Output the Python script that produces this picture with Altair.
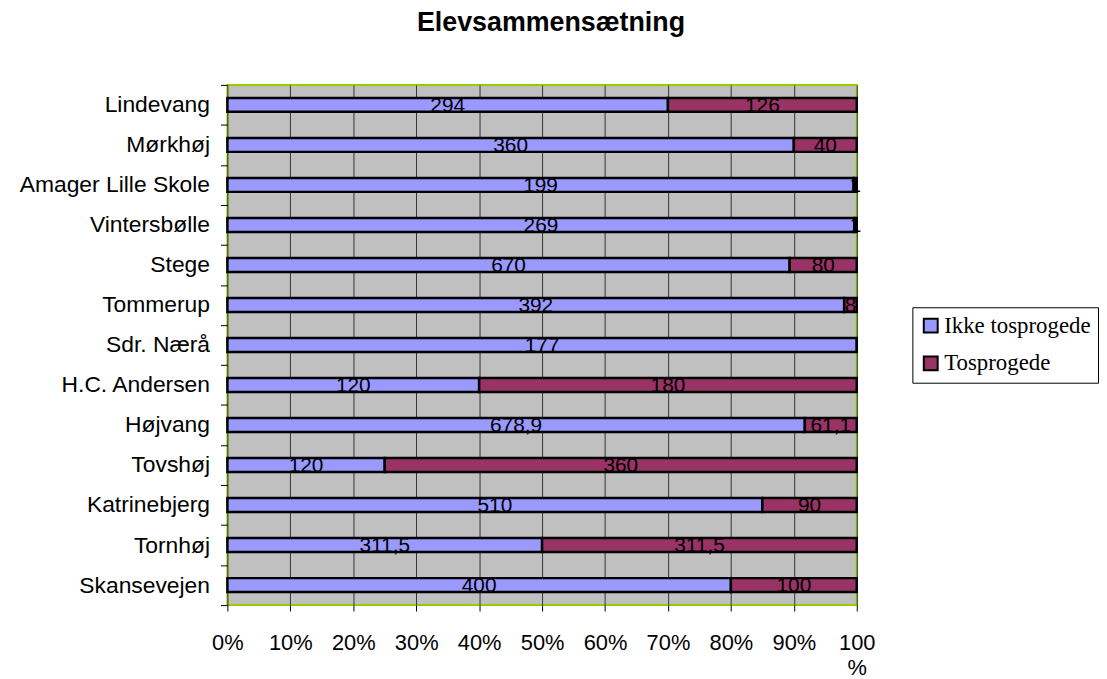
import altair as alt
import pandas as pd

schools = ["Lindevang", "Mørkhøj", "Amager Lille Skole", "Vintersbølle", "Stege",
           "Tommerup", "Sdr. Nærå", "H.C. Andersen", "Højvang", "Tovshøj",
           "Katrinebjerg", "Tornhøj", "Skansevejen"]
ikke_tosprogede = [294, 360, 199, 269, 670, 392, 177, 120, 678.9, 120, 510, 311.5, 400]
tosprogede = [126, 40, 1, 1, 80, 8, 0, 180, 61.1, 360, 90, 311.5, 100]
series = ["Ikke tosprogede", "Tosprogede"]
colors = ["#9999FF", "#993366"]

def fmt(v):
    s = ("%g" % v)
    return s.replace(".", ",")

rows = []
for s, a, b in zip(schools, ikke_tosprogede, tosprogede):
    rows.append({"skole": s, "serie": series[0], "ord": 0, "v": a, "lbl": fmt(a)})
    rows.append({"skole": s, "serie": series[1], "ord": 1, "v": b, "lbl": fmt(b)})
df = pd.DataFrame(rows)

base = alt.Chart(df).transform_stack(
    stack="v", groupby=["skole"], as_=["x0", "x1"], offset="normalize",
    sort=[alt.SortField("ord", order="ascending")]
).transform_calculate(mid="(datum.x0 + datum.x1) / 2")

y_enc = alt.Y("skole:N", sort=schools, title=None,
              scale=alt.Scale(paddingInner=0, paddingOuter=0),
              axis=alt.Axis(tickBand="extent", domain=False, ticks=True, tickColor="black",
                            tickSize=7, labelPadding=11, labelFontSize=23, labelLimit=400,
                            labelFont="Liberation Sans", labelColor="black", grid=False))

x_scale = alt.Scale(domain=[0, 1], nice=False)

bars = base.mark_bar(size=14, stroke="black", strokeWidth=2.5).encode(
    y=y_enc,
    x=alt.X("x0:Q", scale=x_scale, title=None,
            axis=alt.Axis(values=[i / 10 for i in range(11)],
                          labelExpr="datum.value >= 1 ? ['100', '%'] : format(datum.value, '.0%')",
                          grid=True, gridColor="#333333", gridWidth=1, labelFlush=False,
                          labelOverlap=False,
                          domain=False, tickColor="black", tickSize=6,
                          labelPadding=22, labelFontSize=22, labelFont="Liberation Sans",
                          labelColor="black", labelLineHeight=25, labelBaseline="top")),
    x2="x1:Q",
    color=alt.Color("serie:N", scale=alt.Scale(domain=series, range=colors),
                    sort=series,
                    legend=alt.Legend(title=None, orient="none", legendX=690, legendY=224,
                                      strokeColor="black", fillColor="white", padding=7,
                                      labelFont="Liberation Serif", labelFontSize=23,
                                      labelColor="black", symbolType="square", symbolSize=196,
                                      symbolStrokeColor="black", symbolStrokeWidth=2,
                                      rowPadding=14, labelOffset=2)),
    order=alt.Order("ord:Q"),
)

texts = base.transform_filter("datum.v > 0").mark_text(
    fontSize=21, font="Liberation Sans", color="black", baseline="middle", dy=1
).encode(
    y=alt.Y("skole:N", sort=schools),
    x=alt.X("mid:Q", scale=x_scale),
    text="lbl:N",
)

chart = alt.layer(bars, texts).properties(
    width=634, height=524,
    autosize=alt.AutoSizeParams(type="none"),
    padding={"left": 221, "top": 75, "right": 244, "bottom": 72},
    background="white",
    title=alt.TitleParams("Elevsammensætning", font="Liberation Sans", fontSize=27,
                          fontWeight="bold", color="black", anchor="middle", dx=9, offset=37),
).configure_view(fill="#C0C0C0", stroke="#99CC00", strokeWidth=2)

chart.save("out.html", embed_options={"renderer": "svg", "actions": False})
